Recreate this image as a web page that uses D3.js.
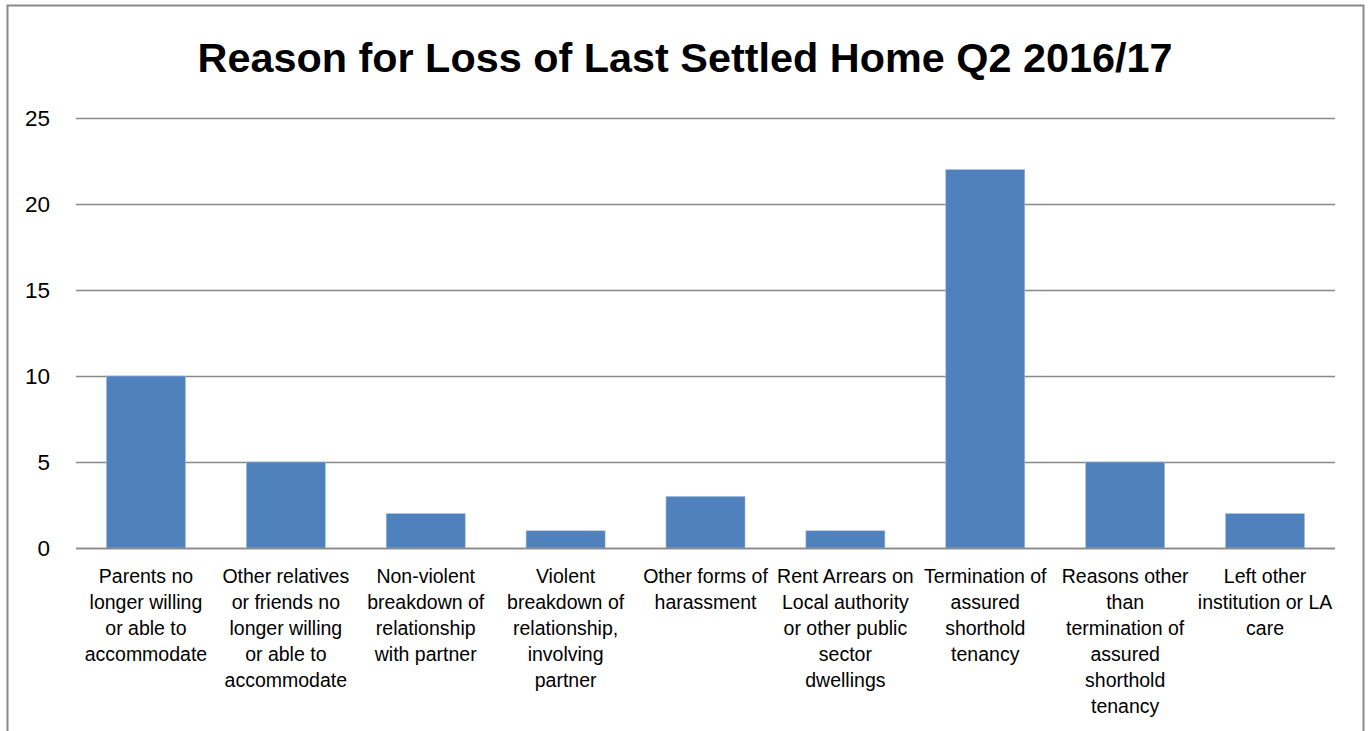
<!DOCTYPE html>
<html><head><meta charset="utf-8">
<script src="https://cdn.jsdelivr.net/npm/d3@7"></script>
<style>body{margin:0;background:#fff}svg{display:block}</style>
</head><body>
<svg id="chart" width="1372" height="731"></svg>
<script>
const categories = [
  ["Parents no","longer willing","or able to","accommodate"],
  ["Other relatives","or friends no","longer willing","or able to","accommodate"],
  ["Non-violent","breakdown of","relationship","with partner"],
  ["Violent","breakdown of","relationship,","involving","partner"],
  ["Other forms of","harassment"],
  ["Rent Arrears on","Local authority","or other public","sector","dwellings"],
  ["Termination of","assured","shorthold","tenancy"],
  ["Reasons other","than","termination of","assured","shorthold","tenancy"],
  ["Left other","institution or LA","care"]
];
const values = [10, 5, 2, 1, 3, 1, 22, 5, 2];
const yTicks = [0, 5, 10, 15, 20, 25];
const title = "Reason for Loss of Last Settled Home Q2 2016/17";

(function(){
const svg = d3.select("#chart");
const font = "'Liberation Sans', Arial, sans-serif";
const pl = 76, pr = 1335, pt = 118, pb = 548;

svg.append("rect").attr("x", 7.5).attr("y", 5.5).attr("width", 1356).attr("height", 760)
  .attr("fill", "#fff").attr("stroke", "#898989").attr("stroke-width", 2);

svg.append("text").attr("x", 685).attr("y", 72).attr("text-anchor", "middle")
  .attr("font-family", font).attr("font-weight", "bold").attr("font-size", 41)
  .attr("textLength", 975).attr("lengthAdjust", "spacingAndGlyphs")
  .attr("fill", "#000").text(title);

const x = d3.scaleBand().domain(d3.range(categories.length)).range([pl, pr]).paddingInner(0.435).paddingOuter(0.2175);
const y = d3.scaleLinear().domain([0, 25]).range([pb, pt]);

svg.append("g").selectAll("line").data(yTicks).join("line")
  .attr("x1", pl).attr("x2", pr)
  .attr("y1", d => Math.round(y(d)) + 0.5).attr("y2", d => Math.round(y(d)) + 0.5)
  .attr("stroke", "#898989").attr("stroke-width", 1.6);

const yAxis = d3.axisLeft(y).tickValues(yTicks).tickSize(0).tickPadding(26);
const ya = svg.append("g").attr("transform", `translate(${pl},0)`).call(yAxis);
ya.select(".domain").remove();
ya.selectAll("text").attr("font-family", font).attr("font-size", 22.5).attr("fill", "#000");

svg.append("g").selectAll("rect").data(values).join("rect")
  .attr("x", (d, i) => x(i)).attr("width", x.bandwidth())
  .attr("y", d => y(d)).attr("height", d => y(0) - y(d))
  .attr("fill", "#4F81BD").attr("stroke", "#a9c0de").attr("stroke-width", 0.6);

svg.append("line").attr("x1", pl).attr("x2", pr)
  .attr("y1", Math.round(y(0)) + 0.5).attr("y2", Math.round(y(0)) + 0.5)
  .attr("stroke", "#898989").attr("stroke-width", 1.6);

const labels = svg.append("g");
categories.forEach((lines, i) => {
  const t = labels.append("text").attr("text-anchor", "middle")
    .attr("font-family", font).attr("font-size", 19.5).attr("fill", "#000");
  lines.forEach((ln, j) => {
    t.append("tspan").attr("x", x(i) + x.bandwidth() / 2).attr("y", 583 + j * 26).text(ln);
  });
});
})();
</script>
</body></html>
